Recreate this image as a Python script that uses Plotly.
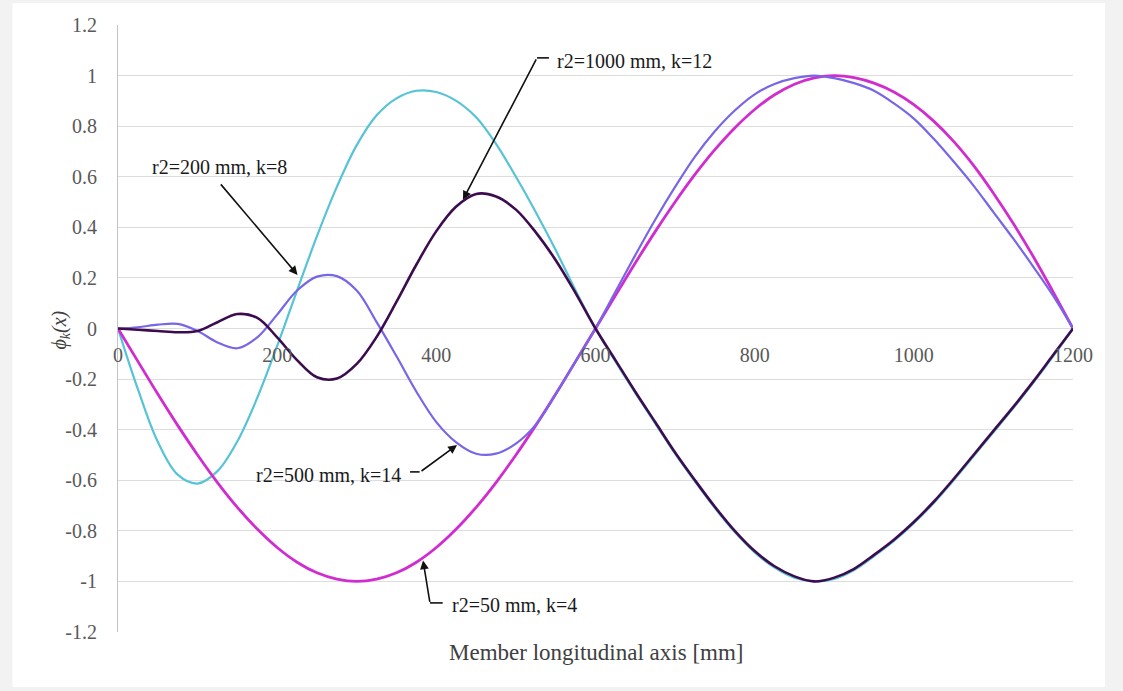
import plotly.graph_objects as go

# ---------------- data ----------------
x_mm = [0, 25, 50, 75, 100, 125, 150, 175, 200, 225, 250, 275, 300, 325, 350, 375,
        400, 425, 450, 475, 500, 525, 550, 575, 600, 625, 650, 675, 700, 725, 750, 775,
        800, 825, 850, 875, 900, 925, 950, 975, 1000, 1025, 1050, 1075, 1100, 1125,
        1150, 1175, 1200]

# r2 = 50 mm, k = 4 (magenta)
phi_r50 = [0, -0.13, -0.259, -0.383, -0.5, -0.609, -0.707, -0.793, -0.866, -0.924, -0.966,
           -0.991, -1.0, -0.991, -0.966, -0.924, -0.866, -0.793, -0.707, -0.609, -0.5,
           -0.383, -0.259, -0.13, 0, 0.13, 0.259, 0.383, 0.5, 0.609, 0.707, 0.793, 0.866,
           0.924, 0.966, 0.991, 1.0, 0.992, 0.97, 0.935, 0.885, 0.82, 0.74, 0.645, 0.535,
           0.415, 0.285, 0.145, 0]

# r2 = 200 mm, k = 8 (light blue)
phi_r200 = [0, -0.24, -0.448, -0.578, -0.613, -0.564, -0.446, -0.274, -0.069, 0.15, 0.365,
            0.56, 0.725, 0.843, 0.91, 0.94, 0.935, 0.90, 0.835, 0.73, 0.60, 0.46, 0.31, 0.15,
            0, -0.13, -0.255, -0.375, -0.495, -0.605, -0.71, -0.805, -0.885, -0.945, -0.985,
            -1.0, -0.99, -0.955, -0.9, -0.84, -0.77, -0.69, -0.6, -0.505, -0.41, -0.315,
            -0.215, -0.11, 0]

# r2 = 500 mm, k = 14 (lavender)
phi_r500 = [0, 0.005, 0.015, 0.018, -0.01, -0.055, -0.078, -0.035, 0.055, 0.15, 0.205,
            0.207, 0.15, 0.025, -0.11, -0.25, -0.37, -0.45, -0.495, -0.495, -0.455, -0.38,
            -0.26, -0.13, 0, 0.145, 0.29, 0.43, 0.56, 0.68, 0.78, 0.862, 0.926, 0.967, 0.99,
            1.0, 0.99, 0.97, 0.94, 0.89, 0.83, 0.75, 0.66, 0.565, 0.46, 0.355, 0.245,
            0.13, 0]

# r2 = 1000 mm, k = 12 (dark purple)
phi_r1000 = [0, -0.005, -0.01, -0.015, -0.01, 0.025, 0.057, 0.042, -0.035, -0.125, -0.193,
             -0.198, -0.14, -0.033, 0.106, 0.253, 0.385, 0.482, 0.532, 0.522, 0.47, 0.38,
             0.27, 0.14, 0, -0.125, -0.25, -0.37, -0.49, -0.6, -0.705, -0.8, -0.88, -0.94,
             -0.98, -1.0, -0.985, -0.95, -0.895, -0.835, -0.765, -0.685, -0.595, -0.5,
             -0.405, -0.31, -0.21, -0.105, 0]

x_tick_vals = [0, 200, 400, 600, 800, 1000, 1200]
x_tick_text = ["0", "200", "400", "600", "800", "1000", "1200"]
y_tick_vals = [-1.2, -1.0, -0.8, -0.6, -0.4, -0.2, 0, 0.2, 0.4, 0.6, 0.8, 1.0, 1.2]
y_tick_text = ["-1.2", "-1", "-0.8", "-0.6", "-0.4", "-0.2", "0", "0.2", "0.4", "0.6",
               "0.8", "1", "1.2"]

series_names = ["r2=50 mm, k=4", "r2=200 mm, k=8", "r2=500 mm, k=14", "r2=1000 mm, k=12"]

# ---------------- figure ----------------
SERIF = "Liberation Serif"
fig = go.Figure()

traces = [
    (phi_r200, series_names[1], "#56C3D6", 2.2),
    (phi_r50, series_names[0], "#D02CD0", 2.8),
    (phi_r500, series_names[2], "#7766E6", 2.2),
    (phi_r1000, series_names[3], "#3C0C4E", 2.6),
]
for ys, name, color, w in traces:
    fig.add_trace(go.Scatter(
        x=x_mm, y=ys, mode="lines", name=name,
        line=dict(color=color, width=w, shape="spline", smoothing=1.0),
        hoverinfo="skip",
    ))

# text labels
labels = [
    dict(text=series_names[1], x=127.5, y=0.64, xanchor="center"),
    dict(text=series_names[3], x=549, y=1.057, xanchor="left"),
    dict(text=series_names[2], x=358, y=-0.578, xanchor="right"),
    dict(text=series_names[0], x=417, y=-1.095, xanchor="left"),
]
for lb in labels:
    fig.add_annotation(text=lb["text"], x=lb["x"], y=lb["y"], xref="x", yref="y",
                       xanchor=lb["xanchor"], yanchor="middle", showarrow=False,
                       font=dict(family=SERIF, size=20, color="#1A1A1A"))

# arrows (tip in data coordinates, tail offset in pixels)
arrows = [
    dict(x=225.6, y=0.212, ax=-78, ay=-92),
    dict(x=433.5, y=0.509, ax=74, ay=-142),
    dict(x=426.0, y=-0.461, ax=-37, ay=27),
    dict(x=383.3, y=-0.917, ax=7, ay=43),
]
for a in arrows:
    fig.add_annotation(x=a["x"], y=a["y"], ax=a["ax"], ay=a["ay"], xref="x", yref="y",
                       text="", showarrow=True, arrowhead=2, arrowsize=1.1,
                       arrowwidth=1.6, arrowcolor="#111111", font=dict(size=1))

# small elbow connectors of the leader lines
elbows = [
    dict(x0=526.5, x1=541.5, y=1.07),
    dict(x0=367.0, x1=379.0, y=-0.567),
    dict(x0=392.0, x1=408.0, y=-1.085),
]
for e in elbows:
    fig.add_shape(type="line", xref="x", yref="y", x0=e["x0"], x1=e["x1"],
                  y0=e["y"], y1=e["y"], line=dict(color="#111111", width=1.6))

# white panel over light-grey page
fig.add_shape(type="rect", xref="paper", yref="paper", x0=-0.1105, x1=1.0335,
              y0=-0.0906, y1=1.0362, fillcolor="white", line=dict(width=0), layer="below")

# axis titles
fig.add_annotation(text="<i>ϕ<sub>k</sub>(x)</i>", xref="paper", yref="paper",
                   x=-0.0764, y=0.4975, textangle=-90, showarrow=False,
                   font=dict(family=SERIF, size=20, color="#404040"))
fig.add_annotation(text="Member longitudinal axis [mm]", xref="paper", yref="paper",
                   x=0.5, y=-0.033, xanchor="center", yanchor="middle", showarrow=False,
                   font=dict(family=SERIF, size=23, color="#404040"))

fig.update_layout(
    width=1123, height=691,
    margin=dict(l=118, r=50, t=25, b=59),
    paper_bgcolor="#F2F2F2",
    plot_bgcolor="white",
    showlegend=False,
    xaxis=dict(range=[0, 1200], tickvals=x_tick_vals, ticktext=x_tick_text,
               showgrid=False, zeroline=False, showline=False, ticks="",
               anchor="free", position=0.5, ticklabelstandoff=12,
               tickfont=dict(family=SERIF, size=20, color="#595959")),
    yaxis=dict(range=[-1.2, 1.2], tickvals=y_tick_vals, ticktext=y_tick_text,
               showgrid=True, gridcolor="#DDDDDD", gridwidth=1, zeroline=False,
               showline=True, linecolor="#C4C4C4", linewidth=1, ticks="",
               ticklabelstandoff=16,
               tickfont=dict(family=SERIF, size=20, color="#595959")),
)

fig.write_html("out.html")
